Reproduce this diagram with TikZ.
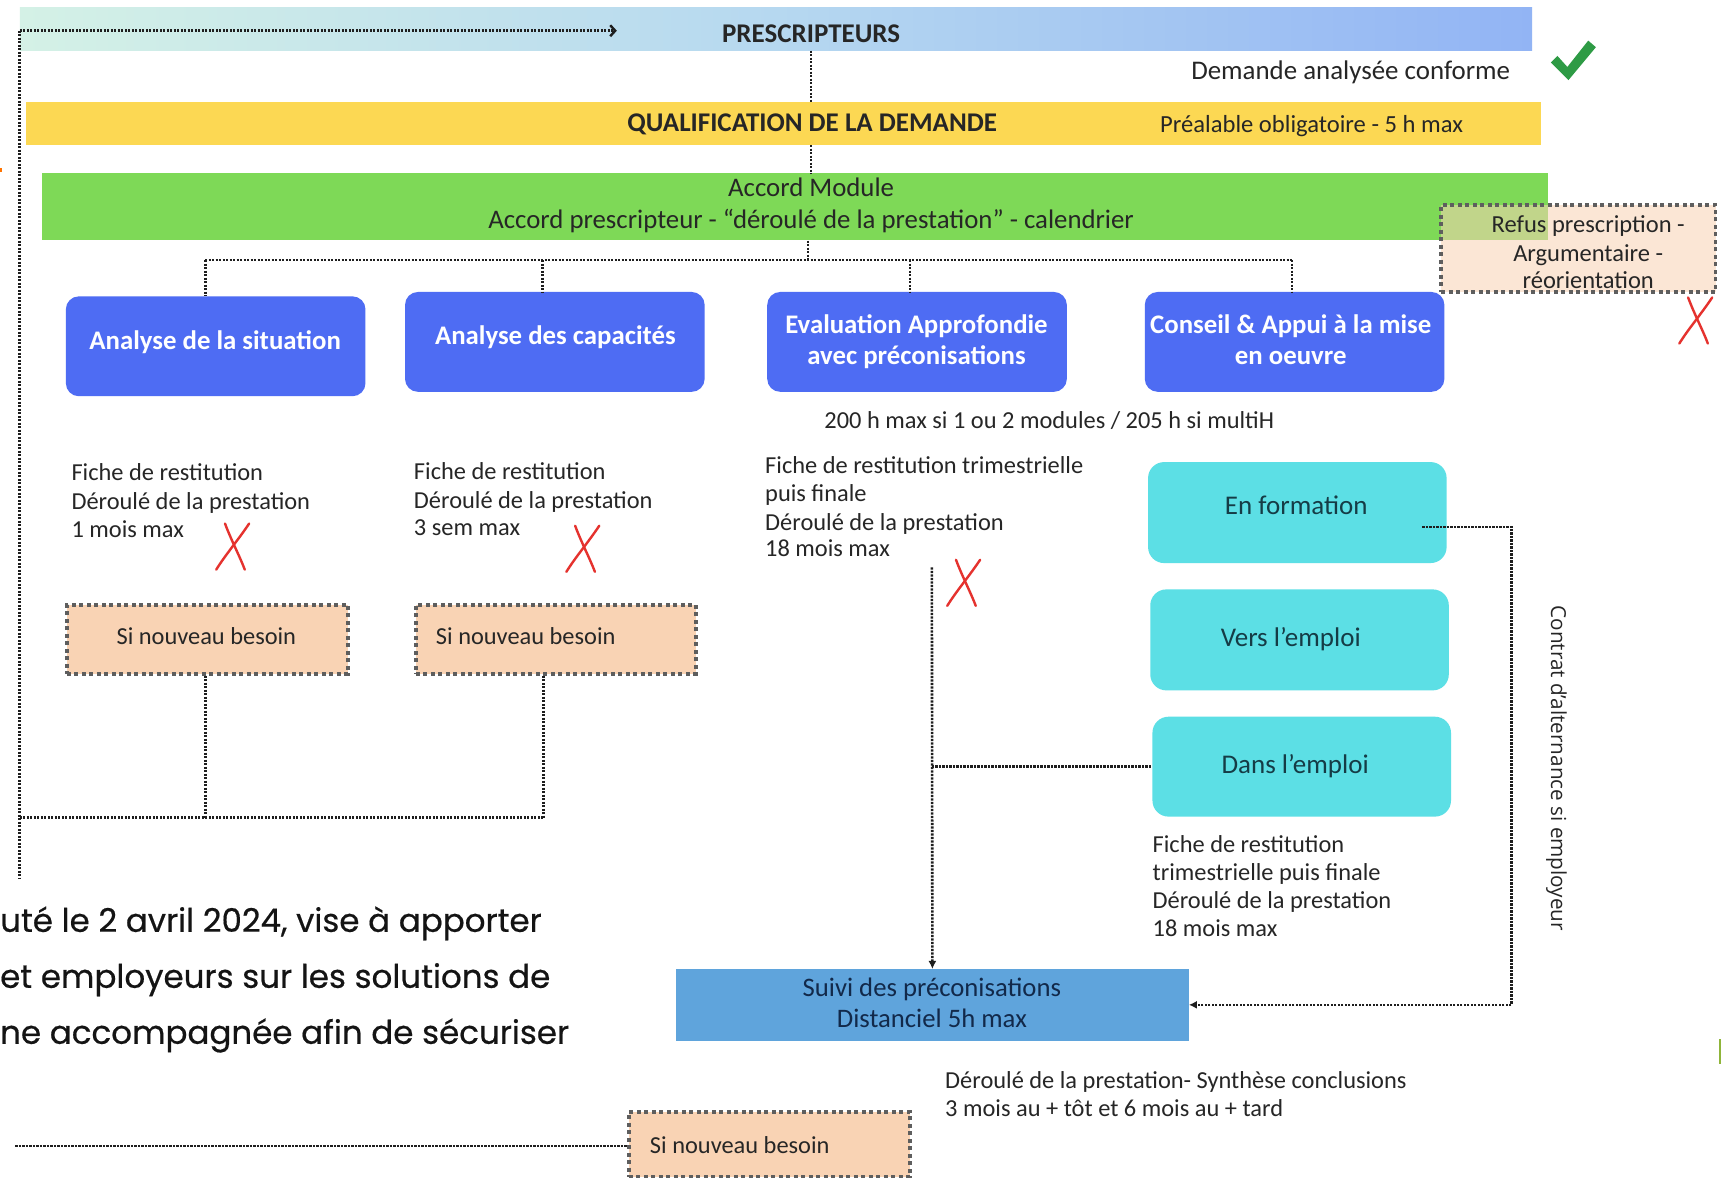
\documentclass[tikz,border=0pt]{standalone}
\usepackage{fontspec}
\setmainfont{Carlito}
\newfontfamily\osans{Open Sans}
\newfontfamily\pfont{Poppins}[FakeBold=0.5]
\usetikzlibrary{arrows.meta,fit}

\definecolor{prescL}{HTML}{D4F1E6}
\definecolor{prescM}{HTML}{B6D8F0}
\definecolor{prescR}{HTML}{92B4F4}
\definecolor{qualY}{HTML}{FCD853}
\definecolor{accG}{HTML}{7ED957}
\definecolor{peach}{HTML}{F9D3B4}
\definecolor{modB}{HTML}{4E6CF3}
\definecolor{sortC}{HTML}{5CDFE5}
\definecolor{suiviB}{HTML}{5FA4DC}
\definecolor{txt}{HTML}{262626}
\definecolor{tealtxt}{HTML}{153C46}
\definecolor{navytxt}{HTML}{12294A}
\definecolor{xred}{HTML}{E5322E}
\definecolor{okG}{HTML}{2E9B45}
\definecolor{dotc}{HTML}{1E1E1E}
\definecolor{bordc}{HTML}{5E5E5E}

\begin{document}
\begin{tikzpicture}[x=1.0976pt,y=-1.0976pt,
  font=\fontsize{24.4}{28}\selectfont,
  band/.style={inner sep=0pt, draw=none},
  module/.style={fill=modB, rounded corners=13pt, inner sep=0pt},
  sortie/.style={fill=sortC, rounded corners=16pt, inner sep=0pt},
  besoin/.style={fill=peach, draw=bordc, line width=3.5pt, dash pattern=on 4pt off 3.5pt, inner sep=0pt},
  lien/.style={draw=dotc, line width=2.6pt, dash pattern=on 2.2pt off 1.3pt},
  tip/.style={-{Latex[length=8pt,width=8pt]}},
  lbl/.style={text=txt, inner sep=0pt, anchor=base west},
  clbl/.style={text=txt, inner sep=0pt, anchor=base},
  boldlbl/.style={text=txt, inner sep=0pt, anchor=base, font=\fontsize{27}{30}\selectfont\bfseries},
  modlbl/.style={text=white, inner sep=0pt, anchor=base, font=\fontsize{26.8}{30}\selectfont\bfseries},
  sortlbl/.style={text=tealtxt, inner sep=0pt, anchor=base, font=\fontsize{27}{30}\selectfont},
  pagetxt/.style={text=black!92, inner sep=0pt, anchor=base west, font=\pfont\fontsize{32.5}{36}\selectfont},
  croix/.style={draw=xred, line width=2.4pt, line cap=round}
]
\useasboundingbox (0,0) rectangle (1568,1074);
\fill[white] (0,0) rectangle (1568,1074);

% ---------- bands ----------
\node[band, fit={(18,7)(1396,46)}, left color=prescL, right color=prescR, middle color=prescM] (presc) {};
\node[boldlbl] (prescT) at (739,39) {PRESCRIPTEURS};

\node[lbl, anchor=base east, font=\fontsize{26.9}{30}\selectfont] (conf) at (1376,72) {Demande analysée conforme};
\fill[okG] (1413,57) -- (1419,51) -- (1428,61) -- (1447,37) -- (1454,43) -- (1429,73) -- cycle;

\node[band, fit={(24,93)(1404,132)}, fill=qualY] (qual) {};
\node[boldlbl] (qualT) at (740,120) {QUALIFICATION DE LA DEMANDE};
\node[clbl, font=\fontsize{24.6}{28}\selectfont] (qualN) at (1195,121) {Préalable obligatoire - 5 h max};

\node[band, fit={(38,158)(1410,219)}, fill=accG] (accord) {};
\node[clbl, font=\fontsize{26.8}{30}\selectfont] (accT1) at (739,179) {Accord Module};
\node[clbl, font=\fontsize{26.8}{30}\selectfont] (accT2) at (739,208) {Accord prescripteur - “déroulé de la prestation” - calendrier};

% refusal box laid over the green band
\node[besoin, fill opacity=0.55, fit={(1313,187)(1563,266)}] (refus) {};
\node[clbl, font=\fontsize{24.5}{28}\selectfont] (ref1) at (1447,212) {Refus prescription -};
\node[clbl, font=\fontsize{24.5}{28}\selectfont] (ref2) at (1447,238) {Argumentaire -};
\node[clbl, font=\fontsize{24.5}{28}\selectfont] (ref3) at (1447,263) {réorientation};

% ---------- spine ----------
\coordinate (spine) at (739,0);
\draw[lien] (presc.south -| spine) -- (qual.north -| spine);
\draw[lien] (qual.south -| spine) -- (accord.north -| spine);

% ---------- modules ----------
\node[module, fit={(60,270)(333,361)}] (m1) {};
\node[module, fit={(369,266)(642,357)}] (m2) {};
\node[module, fit={(699,266)(972,357)}] (m3) {};
\node[module, fit={(1043,266)(1316,357)}] (m4) {};
\node[modlbl] (m1T) at (196,318) {Analyse de la situation};
\node[modlbl] (m2T) at (506,314) {Analyse des capacités};
\node[modlbl] (m3T1) at (835,304) {Evaluation Approfondie};
\node[modlbl] (m3T2) at (835,332) {avec préconisations};
\node[modlbl] (m4T1) at (1176,304) {Conseil \& Appui à la mise};
\node[modlbl] (m4T2) at (1176,332) {en oeuvre};

\coordinate (bus) at (736,237);
\coordinate (d1) at (187,237);
\coordinate (d2) at (494,237);
\coordinate (d3) at (829,237);
\coordinate (d4) at (1177,237);
\draw[lien] (accord.south -| bus) -- (bus);
\draw[lien] (d1) -- (d4);
\draw[lien] (d1) -- (m1.north -| d1);
\draw[lien] (d2) -- (m2.north -| d2);
\draw[lien] (d3) -- (m3.north -| d3);
\draw[lien] (d4) -- (m4.north -| d4);

\node[clbl, font=\fontsize{24.4}{28}\selectfont] (heures) at (956,390) {200 h max si 1 ou 2 modules / 205 h si multiH};

% ---------- module notes ----------
\node[lbl] (n1a) at (65,438) {Fiche de restitution};
\node[lbl] (n1b) at (65,464) {Déroulé de la prestation};
\node[lbl] (n1c) at (65,490) {1 mois max};

\node[lbl] (n2a) at (377,437) {Fiche de restitution};
\node[lbl] (n2b) at (377,463) {Déroulé de la prestation};
\node[lbl] (n2c) at (377,488) {3 sem max};

\node[lbl] (n3a) at (697,431) {Fiche de restitution trimestrielle};
\node[lbl] (n3b) at (697,457) {puis finale};
\node[lbl] (n3c) at (697,483) {Déroulé de la prestation};
\node[lbl] (n3d) at (697,507) {18 mois max};

% red crosses
\foreach \cx/\cy in {213/498, 532/500, 879/531, 1546/292}{
  \draw[croix] (\cx-8,\cy-21) .. controls (\cx-2,\cy-5) and (\cx+6,\cy+10) .. (\cx+10,\cy+21);
  \draw[croix] (\cx+14,\cy-21) .. controls (\cx+4,\cy-6) and (\cx-8,\cy+8) .. (\cx-16,\cy+21);
}

% ---------- "si nouveau besoin" boxes ----------
\node[besoin, fit={(61,551)(317,614)}] (b1) {};
\node[clbl] (b1T) at (188,587) {Si nouveau besoin};
\node[besoin, fit={(379,551)(634,614)}] (b2) {};
\node[clbl] (b2T) at (479,587) {Si nouveau besoin};
\node[besoin, fit={(573,1013)(829,1072)}] (b3) {};
\node[lbl] (b3T) at (592,1051) {Si nouveau besoin};

\coordinate (tl) at (18,28);
\coordinate (tarrow) at (562,28);
\coordinate (lb) at (18,800);
\coordinate (jl) at (18,745);
\coordinate (v1) at (187,745);
\coordinate (v2) at (495,745);
\draw[lien, -{Straight Barb[length=5pt,width=11pt,line width=2.4pt]}] (tl) -- (tarrow);
\draw[lien] (tl) -- (lb);
\draw[lien] (jl) -- (v2);
\draw[lien] (b1.south -| v1) -- (v1);
\draw[lien] (b2.south -| v2) -- (v2);

% ---------- outcomes ----------
\node[sortie, fit={(1046,421)(1318,513)}] (c1) {};
\node[sortie, fit={(1048,537)(1320,629)}] (c2) {};
\node[sortie, fit={(1050,653)(1322,744)}] (c3) {};
\node[sortlbl] (c1T) at (1181,469) {En formation};
\node[sortlbl] (c2T) at (1176,589) {Vers l’emploi};
\node[sortlbl] (c3T) at (1180,705) {Dans l’emploi};

\node[lbl] (n4a) at (1050,777) {Fiche de restitution};
\node[lbl] (n4b) at (1050,802) {trimestrielle puis finale};
\node[lbl] (n4c) at (1050,828) {Déroulé de la prestation};
\node[lbl] (n4d) at (1050,853) {18 mois max};

% ---------- follow-up ----------
\node[band, fill=suiviB, fit={(616,883)(1083,948)}] (suivi) {};
\node[clbl, text=navytxt, font=\fontsize{26.7}{30}\selectfont] (s1) at (849,908) {Suivi des préconisations};
\node[clbl, text=navytxt, font=\fontsize{26.7}{30}\selectfont] (s2) at (849,936) {Distanciel 5h max};

\node[lbl] (n5a) at (861,992) {Déroulé de la prestation- Synthèse conclusions};
\node[lbl] (n5b) at (861,1017) {3 mois au + tôt et 6 mois au + tard};

\coordinate (e1) at (849,517);
\draw[lien, tip] (e1) -- (suivi.north);
\draw[lien] (e1 |- c3.west) -- (c3.west);

\coordinate (r1) at (1296,480);
\coordinate (r2) at (1377,480);
\draw[lien, tip] (r1) -- (r2) -- (r2 |- suivi.east) -- (suivi.east);

\node[inner sep=0pt, rotate=-90, text=txt, font=\osans\fontsize{20.7}{24}\selectfont] (contrat) at (1418,700) {Contrat d’alternance si employeur};

\coordinate (bl) at (14,1044);
\draw[lien] (bl) -- (b3.west |- bl);

% ---------- surrounding page text and edge marks ----------
\node[pagetxt] (p1) at (0,849) {uté le 2 avril 2024, vise à apporter};
\node[pagetxt] (p2) at (0,900) {et employeurs sur les solutions de};
\node[pagetxt] (p3) at (0,951) {ne accompagnée afin de sécuriser};
\fill[orange!90!red] (0,153) rectangle (2,157);
\fill[yellow!60!green!80!black] (1566,947) rectangle (1568,969);
\end{tikzpicture}
\end{document}
